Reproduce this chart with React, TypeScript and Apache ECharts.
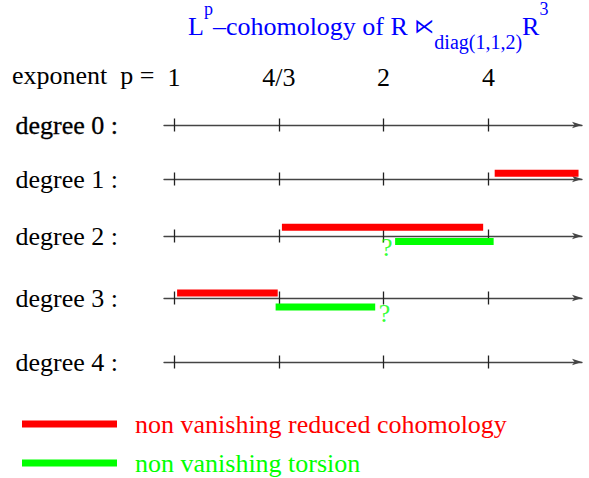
import React, { useEffect, useRef } from 'react';
import * as echarts from 'echarts';

// ---------- data ----------
const degreeLabels = ['degree 0 :', 'degree 1 :', 'degree 2 :', 'degree 3 :', 'degree 4 :'];
const tickPositions = [0, 1, 2, 3];
const exponentLabels = ['1', '4/3', '2', '4'];

const REDUCED = 'non vanishing reduced cohomology';
const TORSION = 'non vanishing torsion';

// intervals, in tick-position units (0 -> p=1, 1 -> p=4/3, 2 -> p=2, 3 -> p=4)
const reducedDegrees = [1, 2, 3];
const reducedStart = [3.06, 1.03, 0.03];
const reducedEnd = [3.86, 2.95, 0.99];

const torsionDegrees = [2, 3];
const torsionStart = [2.11, 0.97];
const torsionEnd = [3.05, 1.92];

const unknownDegrees = [2, 3];
const unknownAt = [2.03, 2.01];

// ---------- layout / style ----------
const W = 589;
const H = 478;
const ROW_Y = [125, 179, 236, 298, 362];
const HALF = 15;
const GRID_LEFT = 164;
const GRID_RIGHT = 7;
const X_MIN = -0.095;
const X_MAX = 3.893;
const REDUCED_OFFSET: Record<number, number> = { 1: 5.7, 2: 8.7, 3: 5 };
const TORSION_OFFSET: Record<number, number> = { 2: -5.6, 3: -9 };
const UNKNOWN_OFFSET: Record<number, number> = { 2: -11, 3: -15.5 };
const FONT = "'Liberation Serif', 'DejaVu Serif', serif";
const RED = '#ff0000';
const GREEN = '#00ff00';
const BLUE = '#0000ff';

export default function App() {
  const ref = useRef<HTMLDivElement>(null);

  useEffect(() => {
    if (!ref.current) return;
    const chart = echarts.init(ref.current, undefined, { renderer: 'svg', width: W, height: H });

    const grids: any[] = [];
    const xAxes: any[] = [];
    const yAxes: any[] = [];
    const mainAxis: number[] = [];
    const tickStyle = { color: '#222', width: 1.3 };

    degreeLabels.forEach((label, g) => {
      grids.push({ left: GRID_LEFT, right: GRID_RIGHT, top: ROW_Y[g] - HALF, height: HALF * 2 });
      yAxes.push({
        type: 'value', gridIndex: g, min: -HALF, max: HALF,
        axisLine: { show: false }, axisTick: { show: false }, splitLine: { show: false },
        axisLabel: {
          show: true, customValues: [0], formatter: () => label, margin: 46,
          fontSize: 26, fontFamily: FONT, color: '#000',
          textBorderColor: g === 0 ? '#000' : 'transparent', textBorderWidth: g === 0 ? 0.3 : 0,
        },
      });
      // main axis on the zero line: line, arrow, lower half of ticks
      mainAxis.push(xAxes.length);
      xAxes.push({
        type: 'value', gridIndex: g, min: X_MIN, max: X_MAX, position: 'bottom',
        axisLine: { show: true, onZero: true, symbol: ['none', 'arrow'], symbolSize: [5, 10], lineStyle: { color: '#444', width: 1.3 } },
        axisTick: { show: true, inside: false, length: 6.5, customValues: tickPositions, lineStyle: tickStyle },
        axisLabel: { show: false }, splitLine: { show: false },
      });
      // companion axis moved onto the zero line: upper half of ticks
      xAxes.push({
        type: 'value', gridIndex: g, min: X_MIN, max: X_MAX, position: 'top', offset: -HALF,
        axisLine: { show: false, onZero: false },
        axisTick: { show: true, inside: false, length: 6.5, customValues: tickPositions, lineStyle: tickStyle },
        axisLabel: { show: false }, splitLine: { show: false },
      });
      if (g === 0) {
        xAxes.push({
          type: 'value', gridIndex: g, min: X_MIN, max: X_MAX, position: 'top', offset: 0,
          axisLine: { show: false, onZero: false }, axisTick: { show: false }, splitLine: { show: false },
          axisLabel: {
            show: true, customValues: tickPositions, margin: 20,
            formatter: (v: number) => exponentLabels[tickPositions.indexOf(Math.round(v))] ?? '',
            fontSize: 26, fontFamily: FONT, color: '#000',
          },
        });
      }
    });

    const series: any[] = [];
    reducedDegrees.forEach((d, i) => {
      const off = REDUCED_OFFSET[d];
      series.push({
        type: 'line', name: REDUCED, xAxisIndex: mainAxis[d], yAxisIndex: d,
        data: [[reducedStart[i], off], [reducedEnd[i], off]],
        symbol: 'none', clip: false, silent: true, color: RED,
        lineStyle: { color: RED, width: 7, cap: 'butt' },
      });
    });
    torsionDegrees.forEach((d, i) => {
      const off = TORSION_OFFSET[d];
      series.push({
        type: 'line', name: TORSION, xAxisIndex: mainAxis[d], yAxisIndex: d,
        data: [[torsionStart[i], off], [torsionEnd[i], off]],
        symbol: 'none', clip: false, silent: true, color: GREEN,
        lineStyle: { color: GREEN, width: 7, cap: 'butt' },
      });
    });
    unknownDegrees.forEach((d, i) => {
      series.push({
        type: 'scatter', xAxisIndex: mainAxis[d], yAxisIndex: d,
        data: [[unknownAt[i], UNKNOWN_OFFSET[d]]],
        symbol: 'circle', symbolSize: 1, itemStyle: { color: 'transparent' }, clip: false, silent: true,
        label: { show: true, position: 'inside', formatter: '?', fontSize: 26, fontFamily: FONT, color: GREEN },
      });
    });

    const tok = { fontFamily: FONT, color: BLUE, fontWeight: 'normal' as const };

    chart.setOption({
      animation: false,
      backgroundColor: '#fff',
      title: {
        left: 188, top: 0, padding: 0,
        text: '{b|L}{sup|p}{b|\u2013cohomology of R }{sym|\u22C9}{sub|diag(1,1,2)}{b|R}{sup|3}',
        textStyle: {
          fontWeight: 'normal',
          rich: {
            b: { ...tok, fontSize: 26, lineHeight: 52 },
            sym: { ...tok, fontSize: 20, fontFamily: "'DejaVu Sans', sans-serif", lineHeight: 52 },
            sup: { ...tok, fontSize: 18, lineHeight: 12, verticalAlign: 'top' },
            sub: { ...tok, fontSize: 20, lineHeight: 24, verticalAlign: 'bottom' },
          },
        },
      },
      legend: {
        left: 22, top: 411, padding: 0, orient: 'vertical', icon: 'rect', itemWidth: 95, itemHeight: 7, itemGap: 13,
        selectedMode: false,
        textStyle: { fontSize: 26, lineHeight: 26, fontFamily: FONT, padding: [0, 0, 0, 13] },
        data: [
          { name: REDUCED, textStyle: { color: RED } },
          { name: TORSION, textStyle: { color: GREEN } },
        ],
      },
      graphic: [
        {
          type: 'text', left: 12, top: 62,
          style: { text: 'exponent  p =', font: `26px ${FONT}`, fill: '#000' },
        },
      ],
      grid: grids,
      xAxis: xAxes,
      yAxis: yAxes,
      series,
    });

    return () => chart.dispose();
  }, []);

  return <div ref={ref} style={{ position: 'absolute', left: 0, top: 0, width: W, height: H }} />;
}
